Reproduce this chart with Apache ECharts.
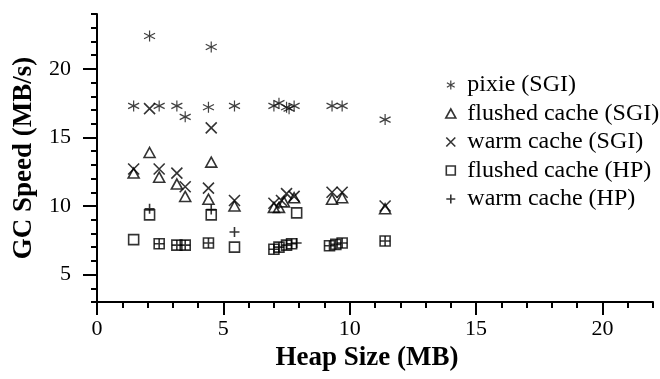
<!DOCTYPE html>
<html>
<head>
<meta charset="utf-8">
<script src="https://cdn.jsdelivr.net/npm/echarts@6/dist/echarts.min.js"></script>
<style>
html,body{margin:0;padding:0;background:#fff;}
#chart{width:660px;height:379px;}
</style>
</head>
<body>
<div id="chart"></div>
<script>
// ---- data (heap size MB, GC speed MB/s) ----
const pixieSGI = [[1.45,17.3],[2.08,22.4],[2.46,17.3],[3.16,17.3],[3.49,16.5],[4.41,17.2],[4.52,21.6],[5.44,17.3],[7.0,17.3],[7.2,17.5],[7.5,17.2],[7.6,17.1],[7.8,17.3],[9.3,17.3],[9.7,17.3],[11.4,16.3]];
const flushedSGI = [[1.45,12.4],[2.08,13.9],[2.46,12.1],[3.16,11.6],[3.49,10.7],[4.41,10.5],[4.52,13.2],[5.44,10.0],[7.0,9.9],[7.2,9.9],[7.4,10.3],[7.8,10.6],[9.3,10.5],[9.7,10.6],[11.4,9.8]];
const warmSGI = [[1.45,12.7],[2.08,17.1],[2.46,12.7],[3.16,12.4],[3.49,11.4],[4.41,11.3],[4.52,15.7],[5.44,10.4],[7.0,10.2],[7.3,10.4],[7.5,10.9],[7.8,10.7],[9.3,11.0],[9.7,11.0],[11.4,10.0]];
const flushedHP = [[1.45,7.55],[2.08,9.35],[2.46,7.25],[3.16,7.15],[3.49,7.15],[4.41,7.3],[4.52,9.35],[5.44,7.0],[7.0,6.85],[7.2,7.0],[7.5,7.15],[7.7,7.25],[7.9,9.5],[9.2,7.1],[9.45,7.2],[9.7,7.3],[11.4,7.45]];
const warmHP = [[2.08,9.8],[2.46,7.25],[3.16,7.15],[3.49,7.15],[4.41,7.3],[4.52,9.75],[5.44,8.1],[7.0,6.85],[7.2,7.0],[7.5,7.15],[7.7,7.25],[7.9,7.3],[9.2,7.1],[9.45,7.2],[9.7,7.3],[11.4,7.45]];

const seriesNames = ['pixie (SGI)','flushed cache (SGI)','warm cache (SGI)','flushed cache (HP)','warm cache (HP)'];
const xMajorTicks = [0,5,10,15,20];
const yMajorTicks = [5,10,15,20];

const SYM = {
  star: 'path://M5 0L5 10M0.67 2.5L9.33 7.5M0.67 7.5L9.33 2.5',
  tri: 'path://M5 0L10 9L0 9Z',
  cross: 'path://M0 0L10 10M10 0L0 10',
  square: 'path://M0 0L10 0L10 10L0 10Z',
  plus: 'path://M5 0L5 10M0 5L10 5'
};
const FONT = 'Liberation Serif';
const chart = echarts.init(document.getElementById('chart'), null, {renderer:'canvas'});

function mk(name, data, sym, size, lw, col){
  return {
    name: name, type: 'scatter', data: data,
    xAxisIndex: 0, yAxisIndex: 0,
    symbol: sym, symbolSize: size,
    itemStyle: {color: 'transparent', borderColor: col||'#000', borderWidth: lw},
    emphasis: {disabled: true},
    animation: false
  };
}
function lg(name, sym, lw, col){
  return {name: name, icon: sym, itemStyle: {color:'transparent', borderColor: col||'#000', borderWidth: lw}};
}

const option = {
  animation: false,
  backgroundColor: '#fff',
  grid: {left: 97, right: 7, top: 14, bottom: 77},
  legend: {
    orient: 'vertical', left: 440, top: 68,
    itemGap: 4.5, itemWidth: 23, itemHeight: 9, symbolKeepAspect: true,
    textStyle: {fontFamily: FONT, fontSize: 24, color: '#000'},
    data: [
      lg(seriesNames[0], SYM.star, 1.2, '#111'),
      lg(seriesNames[1], SYM.tri, 1.6),
      lg(seriesNames[2], SYM.cross, 1.6),
      lg(seriesNames[3], SYM.square, 1.6),
      lg(seriesNames[4], SYM.plus, 1.6)
    ],
    selectedMode: false
  },
  xAxis: [
    {
      type: 'value', min: 0, max: 22, position: 'bottom',
      name: 'Heap Size (MB)', nameLocation: 'middle', nameGap: 35,
      nameTextStyle: {fontFamily: FONT, fontSize: 27, fontWeight: 'bold', color: '#000', padding: [0, 16, 0, 0]},
      axisLine: {show: true, onZero: false, lineStyle: {color: '#000', width: 2}},
      axisTick: {show: true, inside: false, length: 13, customValues: xMajorTicks, lineStyle: {color: '#000', width: 2}},
      axisLabel: {show: true, customValues: xMajorTicks, margin: 16, fontFamily: FONT, fontSize: 22, color: '#000'},
      splitLine: {show: false}
    },
    {
      type: 'value', min: 0, max: 22, interval: 1, position: 'bottom', gridIndex: 0,
      axisLine: {show: false},
      axisTick: {show: true, inside: false, length: 6, lineStyle: {color: '#000', width: 2}},
      axisLabel: {show: false},
      splitLine: {show: false}
    }
  ],
  yAxis: [
    {
      type: 'value', min: 3, max: 24, position: 'left',
      name: 'GC Speed (MB/s)', nameLocation: 'middle', nameGap: 59, nameRotate: 90,
      nameTextStyle: {fontFamily: FONT, fontSize: 27, fontWeight: 'bold', color: '#000'},
      axisLine: {show: true, onZero: false, lineStyle: {color: '#000', width: 2}},
      axisTick: {show: true, inside: false, length: 14, customValues: yMajorTicks, lineStyle: {color: '#000', width: 2}},
      axisLabel: {show: true, customValues: yMajorTicks, margin: 26, fontFamily: FONT, fontSize: 22, color: '#000'},
      splitLine: {show: false}
    },
    {
      type: 'value', min: 3, max: 24, interval: 1, position: 'left', gridIndex: 0,
      axisLine: {show: false},
      axisTick: {show: true, inside: false, length: 6, lineStyle: {color: '#000', width: 2}},
      axisLabel: {show: false},
      splitLine: {show: false}
    }
  ],
  series: [
    mk(seriesNames[0], pixieSGI, SYM.star, [11,11], 1.2, '#111'),
    mk(seriesNames[1], flushedSGI, SYM.tri, [11,10], 1.6),
    mk(seriesNames[2], warmSGI, SYM.cross, [11,11], 1.6),
    mk(seriesNames[3], flushedHP, SYM.square, [10,10], 1.6),
    mk(seriesNames[4], warmHP, SYM.plus, [10,10], 1.6)
  ]
};
chart.setOption(option);
</script>
</body>
</html>
